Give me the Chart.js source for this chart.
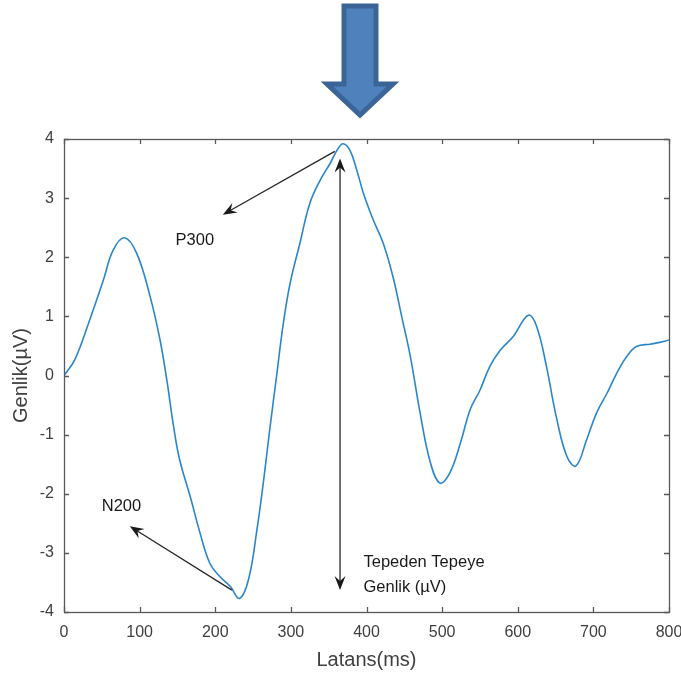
<!DOCTYPE html>
<html><head><meta charset="utf-8">
<script src="https://cdn.jsdelivr.net/npm/chart.js@4"></script>
<style>
html,body{margin:0;padding:0;background:#fff;overflow:hidden}
#wrap{position:relative;width:681px;height:673px}
canvas{display:block}
#bigArrow{position:absolute;left:0;top:0}
</style></head><body>
<div id="wrap">
<canvas id="c" width="681" height="673"></canvas>
<svg id="bigArrow" width="681" height="130">
<polygon points="344,6 376,6 376,84 393,84 360,115 327,84 344,84" fill="#4f81bd" stroke="#3b6596" stroke-width="5" stroke-linejoin="miter"/>
</svg>
</div>
<script>
// ---- data ----
const latency = [0,14,34,52,65,80,96,114,127,136,145,153,167,180,193,206,220,232,244,255,264,272,281,290,299,312,325,339,352,361,369,378,387,396,409,422,435,447,458,471,484,497,510,524,537,550,563,577,594,614,625,638,651,665,677,691,704,718,731,744,757,775,788,800];
const amplitude = [0,0.26,0.94,1.61,2.12,2.33,2.07,1.33,0.60,-0.08,-0.87,-1.43,-2.05,-2.67,-3.18,-3.40,-3.57,-3.77,-3.45,-2.62,-1.77,-0.92,-0.02,0.88,1.56,2.24,2.91,3.31,3.59,3.81,3.92,3.81,3.48,3.08,2.63,2.24,1.67,0.97,0.32,-0.64,-1.45,-1.82,-1.65,-1.15,-0.58,-0.25,0.15,0.43,0.66,1.02,0.83,0.15,-0.70,-1.37,-1.53,-1.09,-0.64,-0.30,0.04,0.32,0.49,0.53,0.56,0.60];
const xTickValues = [0,100,200,300,400,500,600,700,800];
const yTickValues = [-4,-3,-2,-1,0,1,2,3,4];
const xTitle = 'Latans(ms)';
const yTitle = 'Genlik(µV)';

// annotations in data units
const arrows = [
  {from:[358,3.79], to:[210,2.72], both:false},   // P300
  {from:[222,-3.63], to:[87,-2.55], both:false},  // N200
  {from:[365,-3.63], to:[365,3.67], both:true}    // peak-to-peak
];
const labels = [
  {text:'P300', at:[173,2.29], align:'center'},
  {text:'N200', at:[76,-2.22], align:'center'},
  {text:'Tepeden Tepeye', at:[396,-3.16], align:'left'},
  {text:'Genlik (µV)', at:[396,-3.59], align:'left'}
];

const axisColor = '#595959';
const textColor = '#404040';
const fontFamily = '"Liberation Sans", Arial, sans-serif';

function head(ctx, x1, y1, x2, y2){
  const dx = x2-x1, dy = y2-y1, len = Math.hypot(dx,dy);
  const ux = dx/len, uy = dy/len, px = -uy, py = ux;
  const L = 14, W = 5.5, N = 9;
  ctx.beginPath();
  ctx.moveTo(x2, y2);
  ctx.lineTo(x2 - L*ux + W*px, y2 - L*uy + W*py);
  ctx.lineTo(x2 - N*ux, y2 - N*uy);
  ctx.lineTo(x2 - L*ux - W*px, y2 - L*uy - W*py);
  ctx.closePath();
  ctx.fill();
}

const decor = {
  id:'decor',
  afterDatasetsDraw(chart){
    const {ctx, chartArea:a, scales:{x, y}} = chart;
    ctx.save();
    ctx.strokeStyle = axisColor; ctx.lineWidth = 1.3;
    ctx.strokeRect(Math.round(a.left)+0.5, Math.round(a.top)+0.5, Math.round(a.right-a.left), Math.round(a.bottom-a.top));
    ctx.beginPath();
    xTickValues.forEach(v => {
      const px = Math.round(x.getPixelForValue(v))+0.5;
      ctx.moveTo(px, a.bottom); ctx.lineTo(px, a.bottom-5);
      ctx.moveTo(px, a.top); ctx.lineTo(px, a.top+5);
    });
    yTickValues.forEach(v => {
      const py = Math.round(y.getPixelForValue(v))+0.5;
      ctx.moveTo(a.left, py); ctx.lineTo(a.left+5, py);
      ctx.moveTo(a.right, py); ctx.lineTo(a.right-5, py);
    });
    ctx.stroke();
    ctx.strokeStyle = '#262626'; ctx.fillStyle = '#1a1a1a'; ctx.lineWidth = 1.3;
    arrows.forEach(ar => {
      const x1 = x.getPixelForValue(ar.from[0]), y1 = y.getPixelForValue(ar.from[1]);
      const x2 = x.getPixelForValue(ar.to[0]), y2 = y.getPixelForValue(ar.to[1]);
      const dx = x2-x1, dy = y2-y1, len = Math.hypot(dx,dy), ux = dx/len, uy = dy/len;
      ctx.beginPath();
      const s = ar.both ? 7 : 0;
      ctx.moveTo(x1 + s*ux, y1 + s*uy); ctx.lineTo(x2 - 7*ux, y2 - 7*uy);
      ctx.stroke();
      head(ctx, x1, y1, x2, y2);
      if (ar.both) head(ctx, x2, y2, x1, y1);
    });
    ctx.font = '16.5px ' + fontFamily;
    ctx.fillStyle = '#1a1a1a'; ctx.textBaseline = 'middle';
    labels.forEach(l => {
      ctx.textAlign = l.align;
      ctx.fillText(l.text, x.getPixelForValue(l.at[0]), y.getPixelForValue(l.at[1]));
    });
    ctx.restore();
  }
};

new Chart(document.getElementById('c'), {
  type:'line',
  data:{
    datasets:[{
      data: latency.map((v,i)=>({x:v, y:amplitude[i]})),
      borderColor:'#2a86ca', borderWidth:1.6, pointRadius:0,
      tension:0.4, fill:false
    }]
  },
  options:{
    responsive:false, animation:false,
    layout:{padding:{top:139, right:12, left:0, bottom:0}},
    plugins:{legend:{display:false}, tooltip:{enabled:false}},
    scales:{
      x:{
        type:'linear', min:0, max:800,
        afterBuildTicks: s => { s.ticks = xTickValues.map(v=>({value:v})); },
        afterFit: s => { s.height = 61; s.paddingLeft = 0; s.paddingRight = 0; },
        grid:{display:false, drawTicks:false}, border:{display:false},
        ticks:{color:textColor, padding:11, maxRotation:0, autoSkip:false,
               font:{family:fontFamily, size:16}},
        title:{display:true, text:xTitle, color:textColor, padding:{top:0,bottom:1},
               font:{family:fontFamily, size:20}}
      },
      y:{
        type:'linear', min:-4, max:4,
        afterBuildTicks: s => { s.ticks = yTickValues.map(v=>({value:v})); },
        afterFit: s => { s.width = 64; s.paddingTop = 0; s.paddingBottom = 0; },
        grid:{display:false, drawTicks:false}, border:{display:false},
        ticks:{color:textColor, padding:10, autoSkip:false,
               font:{family:fontFamily, size:16}},
        title:{display:true, text:yTitle, color:textColor, padding:{top:9,bottom:0},
               font:{family:fontFamily, size:20}}
      }
    }
  },
  plugins:[decor]
});
</script>
</body></html>
